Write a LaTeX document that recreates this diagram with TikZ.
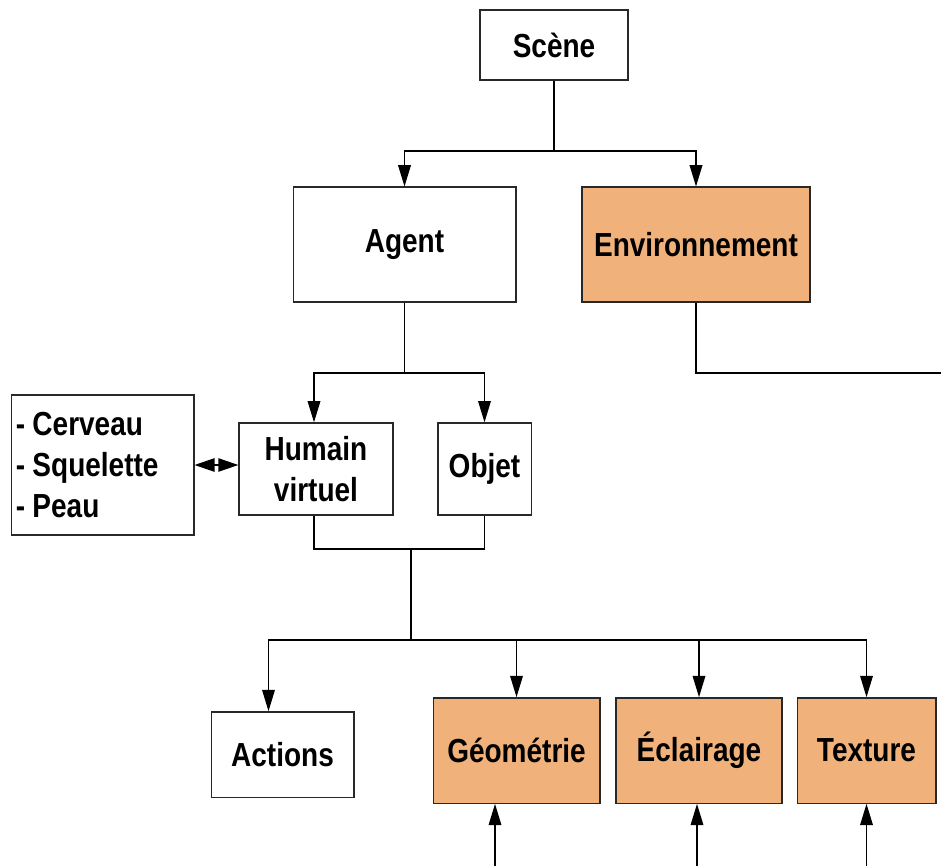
\documentclass[tikz,border=0pt]{standalone}
\usepackage{fontspec}
\setmainfont[FakeStretch=0.84]{Liberation Sans}
\usepackage{xcolor}
\usepackage{tikz}
\usetikzlibrary{arrows.meta, positioning, calc}
\definecolor{boxorange}{RGB}{240,178,122}
\definecolor{edgegray}{RGB}{40,40,40}

\begin{document}
\begin{tikzpicture}[
    x=0.75pt, y=-0.75pt,
    box/.style={rectangle, draw=edgegray, line width=1pt, fill=white, align=center, inner sep=0pt, font=\fontsize{25}{31}\selectfont\bfseries},
    orangebox/.style={box, fill=boxorange},
    arrow/.style={-{Triangle[length=16pt, width=9.5pt]}, line width=1pt, draw=black},
    dblarrow/.style={{Triangle[length=15pt, width=10pt]}-{Triangle[length=15pt, width=10pt]}, line width=1pt, draw=black},
    link/.style={line width=1pt, draw=black},
]
\useasboundingbox (0,0) rectangle (941,866);

% Row 1: scene
\node[box, minimum width=111pt, minimum height=52.5pt] (scene) at (554,45) {Scène};

% Row 2: agent + environment
\node[box, minimum width=167pt, minimum height=86pt] (agent) at (404.5,244.5) {Agent};
\node[orangebox, minimum width=171pt, minimum height=86pt] (env) at (696,244.5) {Environnement};

% Row 3: human, object, parts
\node[box, minimum width=115.5pt, minimum height=69pt] (human) at (316,469) {Humain\\virtuel};
\node[box, minimum width=70pt, minimum height=69pt] (object) at (484.5,469) {Objet};
\node[box, minimum height=105pt, text width=130pt, inner xsep=3.5pt, align=left] (parts) at (102.5,465) {-\hspace{5.5pt}Cerveau\\-\hspace{5.5pt}Squelette\\-\hspace{5.5pt}Peau};

% Row 4: properties
\node[box, minimum width=107pt, minimum height=64pt] (actions) at (282.5,754.5) {Actions};
\node[orangebox, minimum width=125pt, minimum height=79pt] (geometry) at (516.5,750.5) {Géométrie};
\node[orangebox, minimum width=124.5pt, minimum height=79pt] (lighting) at (699,750.5) {Éclairage};
\node[orangebox, minimum width=104pt, minimum height=79pt] (texture) at (866.5,750.5) {Texture};

% Junctions
\coordinate (split1) at (554,151);
\coordinate (split2) at (404.5,373);
\coordinate (envout) at (941,373);
\coordinate (merge) at (411,549);
\coordinate (split3) at (411,640);
\coordinate (gin) at (495,866);
\coordinate (lin) at (697,866);
\coordinate (tin) at (866.5,866);

% Scene arrows
\draw[link] (scene) -- (split1);
\draw[arrow] (split1) -| (agent.north);
\draw[arrow] (split1) -| (env.north);

% Environment exit
\draw[link] (env.south) |- (envout);

% Agent arrows
\draw[link] (agent.south) -- (split2);
\draw[arrow] (split2) -| ([xshift=-1.5pt]human.north);
\draw[arrow] (split2) -| (object.north);
\draw[dblarrow] (parts.east) -- (parts.east -| human.west);

% Merge to properties
\draw[link] ([xshift=-1.5pt]human.south) |- (merge) -| (object.south);
\draw[link] (merge) -- (split3);
\draw[arrow] (split3) -| ([xshift=-10.5pt]actions.north);
\draw[arrow] (split3) -| (geometry.north);
\draw[arrow] (split3) -| (lighting.north);
\draw[arrow] (split3) -| (texture.north);

% Inputs from below
\draw[arrow] (gin) -- (gin |- geometry.south);
\draw[arrow] (lin) -- (lin |- lighting.south);
\draw[arrow] (tin) -- (texture.south);

\end{tikzpicture}
\end{document}
